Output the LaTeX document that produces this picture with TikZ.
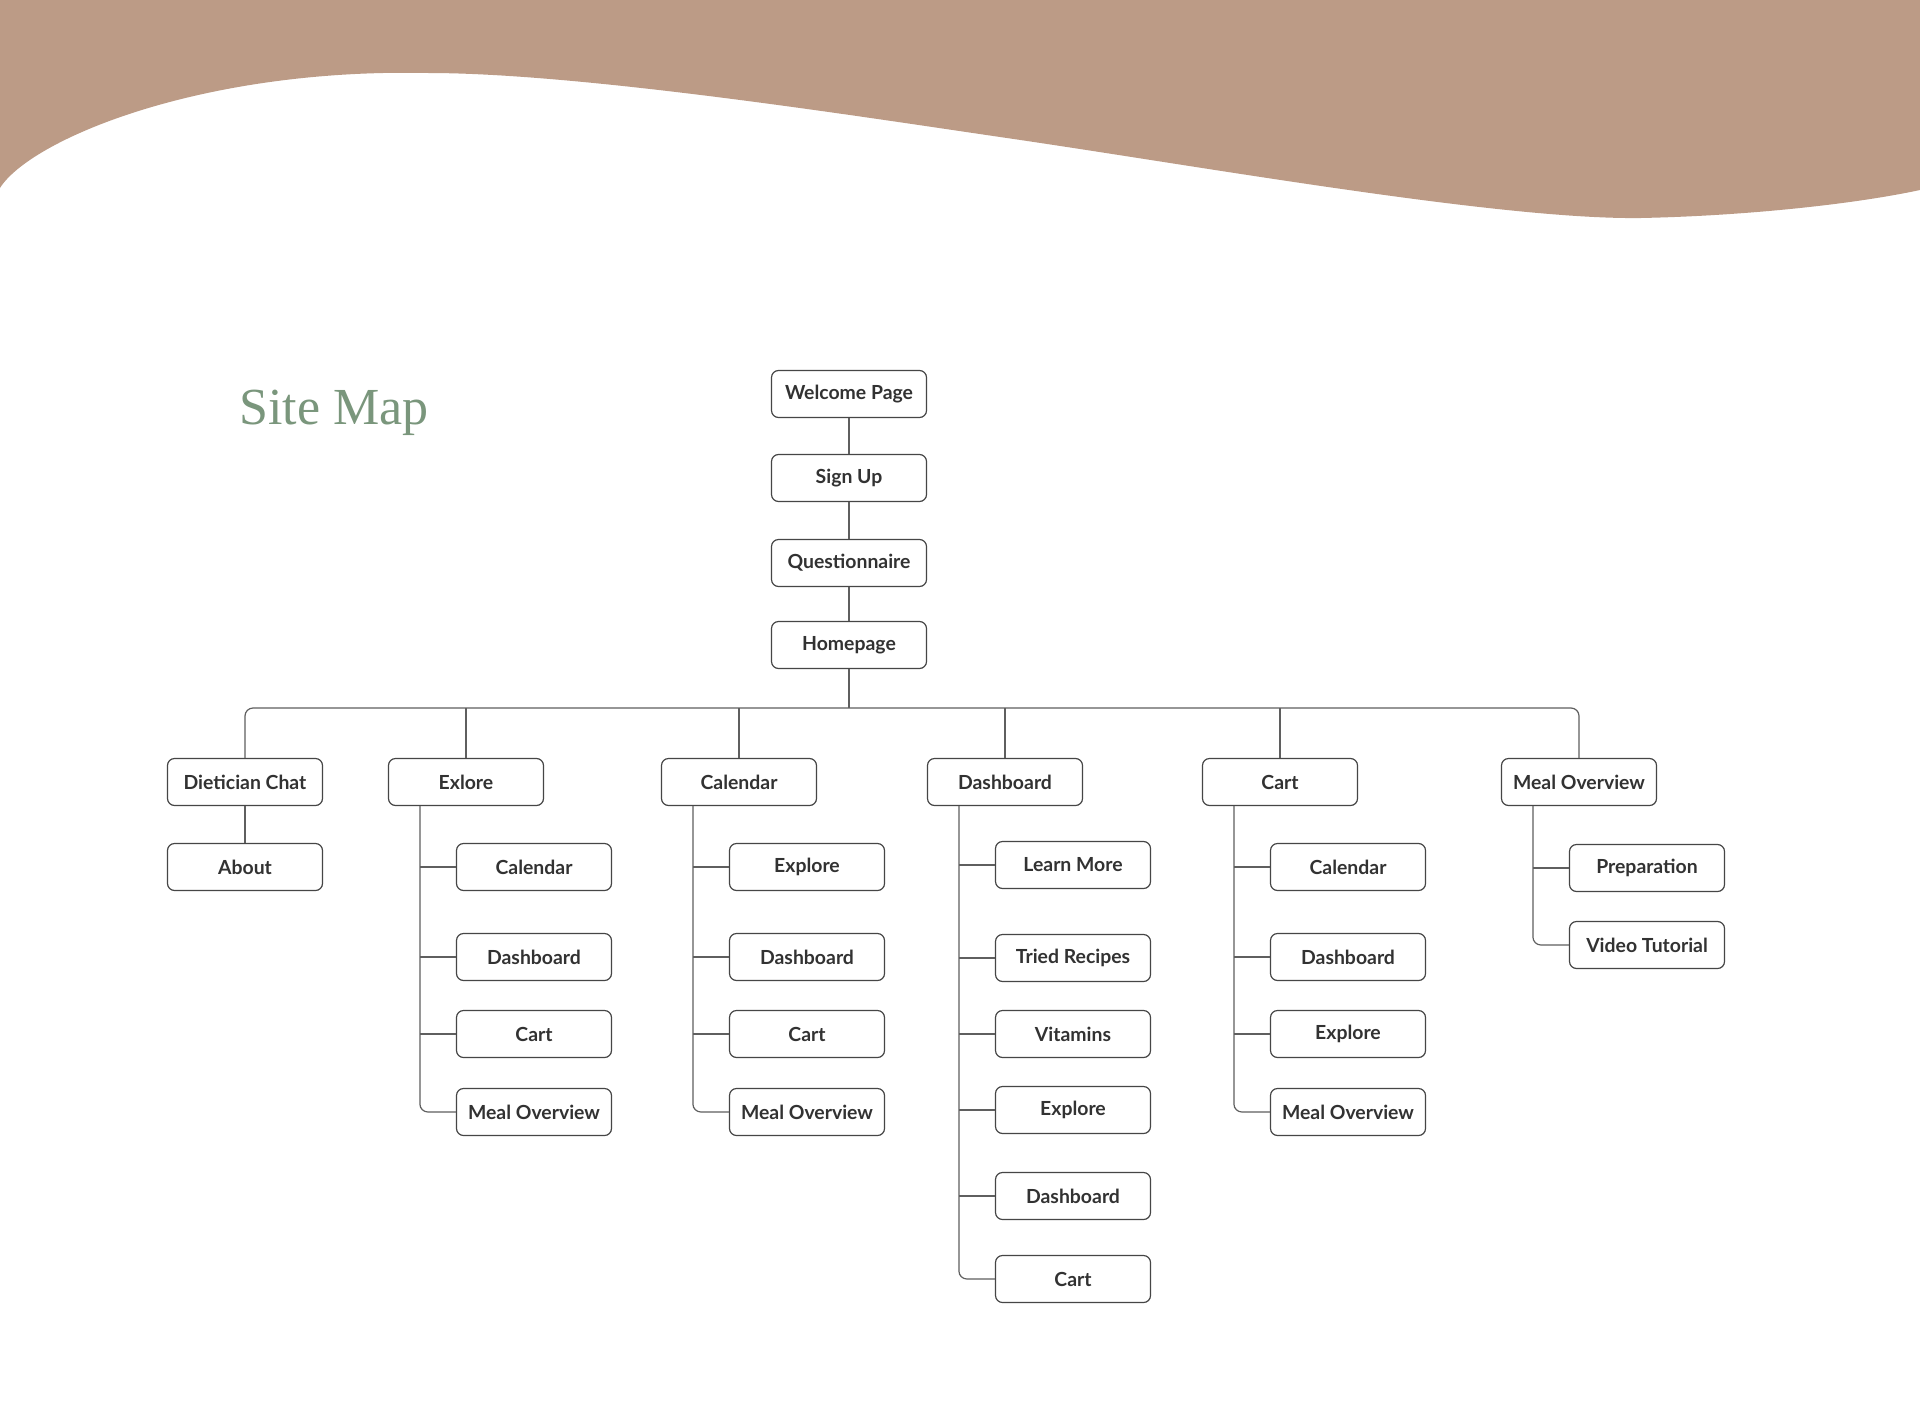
\documentclass[tikz,border=0pt]{standalone}
\usepackage{fontspec}
\setmainfont{Noto Sans}
\newfontfamily\titlefont{Liberation Serif}
\newfontfamily\boxfont{Lato}
\definecolor{wavebrown}{RGB}{188, 155, 134}
\definecolor{titlegreen}{RGB}{122, 150, 124}
\definecolor{boxline}{RGB}{70, 70, 70}
\definecolor{boxtext}{RGB}{50, 50, 50}
\definecolor{linkgray}{RGB}{95, 95, 95}

\begin{document}
\begin{tikzpicture}[x=0.5pt, y=-0.5pt,
  box/.style={draw=boxline, line width=0.6pt, rounded corners=3.5pt, minimum width=77.5pt,
    minimum height=23.5pt, inner sep=0pt, text=boxtext, font=\boxfont\bfseries\fontsize{9.7}{11}\selectfont},
  link/.style={draw=linkgray, line width=0.6pt},
  spine/.style={link, rounded corners=4pt}]
  % page and wave
  \fill[white] (0,0) rectangle (1920,1418);
  \useasboundingbox (0,0) rectangle (1920,1418);
  \fill[wavebrown] (0,0) -- (0,188) .. controls (30,140) and (200,68) .. (428,73)
    .. controls (580,73) and (850,115) .. (1000,137)
    .. controls (1200,166) and (1500,220) .. (1641,218)
    .. controls (1740,216) and (1850,205) .. (1920,190) -- (1920,0) -- cycle;
  \node[anchor=base west, inner sep=0pt, text=titlegreen, font=\titlefont\fontsize{26}{30}\selectfont]
    (title) at (239,424) {Site Map};

  % main column
  \node[box] (welcome) at (849,394) {Welcome Page};
  \node[box] (signup) at (849,478) {Sign Up};
  \node[box] (quest) at (849,563) {Questionnaire};
  \node[box] (home) at (849,645) {Homepage};
  \draw[link] (welcome) -- (signup);
  \draw[link] (signup) -- (quest);
  \draw[link] (quest) -- (home);

  % first level
  \foreach \name/\lbl/\xx in {dchat/Dietician Chat/245, exp/Exlore/466, cal/Calendar/739,
      dash/Dashboard/1005, cart/Cart/1280, meal/Meal Overview/1579} {
    \node[box] (\name) at (\xx,782) {\lbl};
  }
  \coordinate (bus) at (849,708);
  \draw[link] (home) -- (bus);
  \draw[spine] (dchat.north) |- (bus) -| (meal.north);
  \foreach \name in {exp, cal, dash, cart} {
    \draw[link] (\name.north) -- (\name.north |- bus);
  }

  % dietician chat
  \node[box] (about) at (245,867) {About};
  \draw[link] (dchat) -- (about);

  % explore
  \coordinate (expspine) at ([xshift=16pt]exp.south west);
  \foreach \lbl/\yy [count=\i] in {Calendar/867, Dashboard/957, Cart/1034, Meal Overview/1112} {
    \node[box] (exp-\i) at (534,\yy) {\lbl};
    \ifnum\i<4 \draw[link] (exp-\i.west) -- (exp-\i.west -| expspine); \fi
  }
  \draw[spine] (expspine) |- (exp-4.west);

  % calendar
  \coordinate (calspine) at ([xshift=16pt]cal.south west);
  \foreach \lbl/\yy [count=\i] in {Explore/867, Dashboard/957, Cart/1034, Meal Overview/1112} {
    \node[box] (cal-\i) at (807,\yy) {\lbl};
    \ifnum\i<4 \draw[link] (cal-\i.west) -- (cal-\i.west -| calspine); \fi
  }
  \draw[spine] (calspine) |- (cal-4.west);

  % dashboard
  \coordinate (dashspine) at ([xshift=16pt]dash.south west);
  \foreach \lbl/\yy [count=\i] in {Learn More/865, Tried Recipes/958, Vitamins/1034,
      Explore/1110, Dashboard/1196, Cart/1279} {
    \node[box] (dash-\i) at (1073,\yy) {\lbl};
    \ifnum\i<6 \draw[link] (dash-\i.west) -- (dash-\i.west -| dashspine); \fi
  }
  \draw[spine] (dashspine) |- (dash-6.west);

  % cart
  \coordinate (cartspine) at ([xshift=16pt]cart.south west);
  \foreach \lbl/\yy [count=\i] in {Calendar/867, Dashboard/957, Explore/1034, Meal Overview/1112} {
    \node[box] (cart-\i) at (1348,\yy) {\lbl};
    \ifnum\i<4 \draw[link] (cart-\i.west) -- (cart-\i.west -| cartspine); \fi
  }
  \draw[spine] (cartspine) |- (cart-4.west);

  % meal overview
  \coordinate (mealspine) at ([xshift=16pt]meal.south west);
  \node[box] (meal-1) at (1647,868) {Preparation};
  \node[box] (meal-2) at (1647,945) {Video Tutorial};
  \draw[link] (meal-1.west) -- (meal-1.west -| mealspine);
  \draw[spine] (mealspine) |- (meal-2.west);
\end{tikzpicture}
\end{document}
